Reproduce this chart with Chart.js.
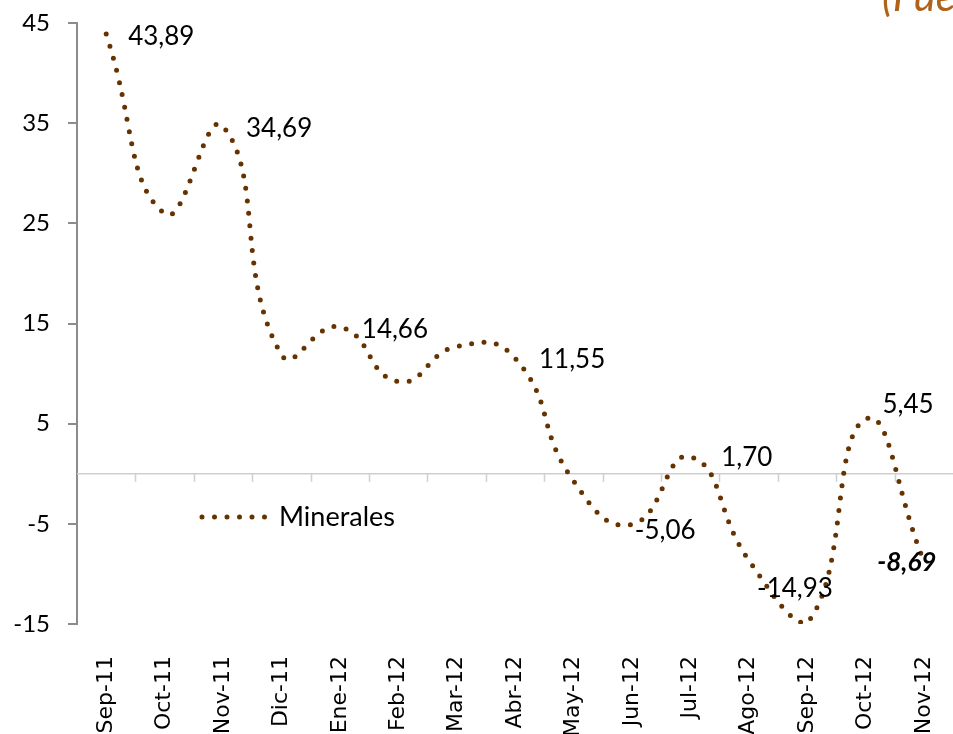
<!DOCTYPE html>
<html lang="es">
<head>
    <meta charset="UTF-8">
    <title>Minerales</title>
    <script src="https://cdn.jsdelivr.net/npm/chart.js"></script>
    <style>
        body { margin: 0; background: #fff; }
        canvas { display: block; }
    </style>
</head>
<body>
    <canvas id="chart" width="953" height="734"></canvas>
    <script>
        const months = ['Sep-11', 'Oct-11', 'Nov-11', 'Dic-11', 'Ene-12', 'Feb-12', 'Mar-12', 'Abr-12',
                        'May-12', 'Jun-12', 'Jul-12', 'Ago-12', 'Sep-12', 'Oct-12', 'Nov-12'];
        const minerales = [43.89, 25.97, 34.69, 11.9, 14.66, 9.2, 12.7, 11.55,
                           -0.7, -5.06, 1.70, -8.6, -14.93, 5.45, -8.69];
        // which points carry a value label
        const labelled = [true, false, true, false, true, false, false, true,
                          false, true, true, false, true, true, true];
        const yTicks = [-15, -5, 5, 15, 25, 35, 45];

        const brown = '#663300';

        // label placement relative to the point: dx, dy, align, bold italic
        const labelPos = {
            0: [22, 2, 'left'], 2: [23, 2, 'left'], 4: [22, 3, 'left'], 7: [24, 2, 'left'],
            9: [3, 6, 'left'], 10: [31, 1, 'left'], 12: [-50, -35, 'left'], 13: [17, -15, 'left'],
            14: [-17, 2, 'center', true]
        };

        const extras = {
            id: 'extras',
            beforeDatasetsDraw(chart) {
                const ctx = chart.ctx;
                const x = chart.scales.x, y = chart.scales.y;
                const y0 = y.getPixelForValue(0);
                ctx.save();
                ctx.strokeStyle = '#cfcfcf';
                ctx.lineWidth = 1.5;
                ctx.beginPath();
                ctx.moveTo(chart.chartArea.left, y0);
                ctx.lineTo(chart.chartArea.right, y0);
                // tick marks between the categories
                const step = x.getPixelForValue(1) - x.getPixelForValue(0);
                for (let i = 0; i < months.length - 1; i++) {
                    const px = Math.round(x.getPixelForValue(i) + step / 2) + 0.5;
                    ctx.moveTo(px, y0);
                    ctx.lineTo(px, y0 + 8);
                }
                ctx.stroke();
                ctx.restore();
            },
            afterDatasetsDraw(chart) {
                const ctx = chart.ctx;
                const meta = chart.getDatasetMeta(0);
                ctx.save();
                ctx.fillStyle = '#000';
                ctx.textBaseline = 'middle';
                minerales.forEach((v, i) => {
                    if (!labelled[i]) return;
                    const p = meta.data[i];
                    const [dx, dy, align, strong] = labelPos[i];
                    ctx.font = strong ? 'italic bold 26px Lato' : '26px Lato';
                    ctx.textAlign = align;
                    ctx.fillText(v.toFixed(2).replace('.', ','), p.x + dx, p.y + dy);
                });

                // legend inside the plot
                const a = chart.chartArea;
                const ly = a.top + 494, lx = a.left + 125;
                ctx.strokeStyle = brown;
                ctx.lineWidth = 5;
                ctx.lineCap = 'round';
                ctx.setLineDash([0, 12.5]);
                ctx.beginPath();
                ctx.moveTo(lx, ly);
                ctx.lineTo(lx + 66, ly);
                ctx.stroke();
                ctx.setLineDash([]);
                ctx.font = '27px Lato';
                ctx.textAlign = 'left';
                ctx.fillText('Minerales', lx + 77, ly);

                // source note, cut by the right edge
                ctx.fillStyle = '#b0621c';
                ctx.font = 'italic 42px Lato';
                ctx.textBaseline = 'alphabetic';
                ctx.fillText('(Fuente', 882, 11);
                ctx.restore();
            }
        };

        new Chart(document.getElementById('chart'), {
            type: 'line',
            data: {
                labels: months,
                datasets: [{
                    label: 'Minerales',
                    data: minerales,
                    borderColor: brown,
                    borderWidth: 5,
                    borderDash: [0, 12.5],
                    borderCapStyle: 'round',
                    tension: 0.5,
                    pointRadius: 0,
                    fill: false
                }]
            },
            options: {
                responsive: false,
                animation: false,
                layout: { padding: { top: 23, right: 0, left: 0, bottom: 0 } },
                plugins: {
                    legend: { display: false },
                    tooltip: { enabled: false }
                },
                scales: {
                    x: {
                        offset: true,
                        grid: { display: false },
                        border: { display: false },
                        ticks: {
                            maxRotation: 90,
                            minRotation: 90,
                            padding: 24,
                            color: '#000',
                            font: { family: 'DejaVu Sans', size: 22 }
                        },
                        afterFit(s) {
                            s.height = 110;
                            s.paddingLeft = 0;
                            s.paddingRight = 0;
                        }
                    },
                    y: {
                        min: -15,
                        max: 45,
                        afterBuildTicks(s) { s.ticks = yTicks.map(v => ({ value: v })); },
                        grid: {
                            drawOnChartArea: false,
                            tickLength: 9,
                            color: '#8c8c8c',
                            lineWidth: 2
                        },
                        border: { color: '#8c8c8c', width: 2 },
                        ticks: {
                            padding: 18,
                            color: '#000',
                            font: { family: 'Lato', size: 24 }
                        },
                        afterFit(s) {
                            s.width = 77;
                            s.paddingTop = 0;
                            s.paddingBottom = 0;
                        }
                    }
                }
            },
            plugins: [extras]
        });
    </script>
</body>
</html>
